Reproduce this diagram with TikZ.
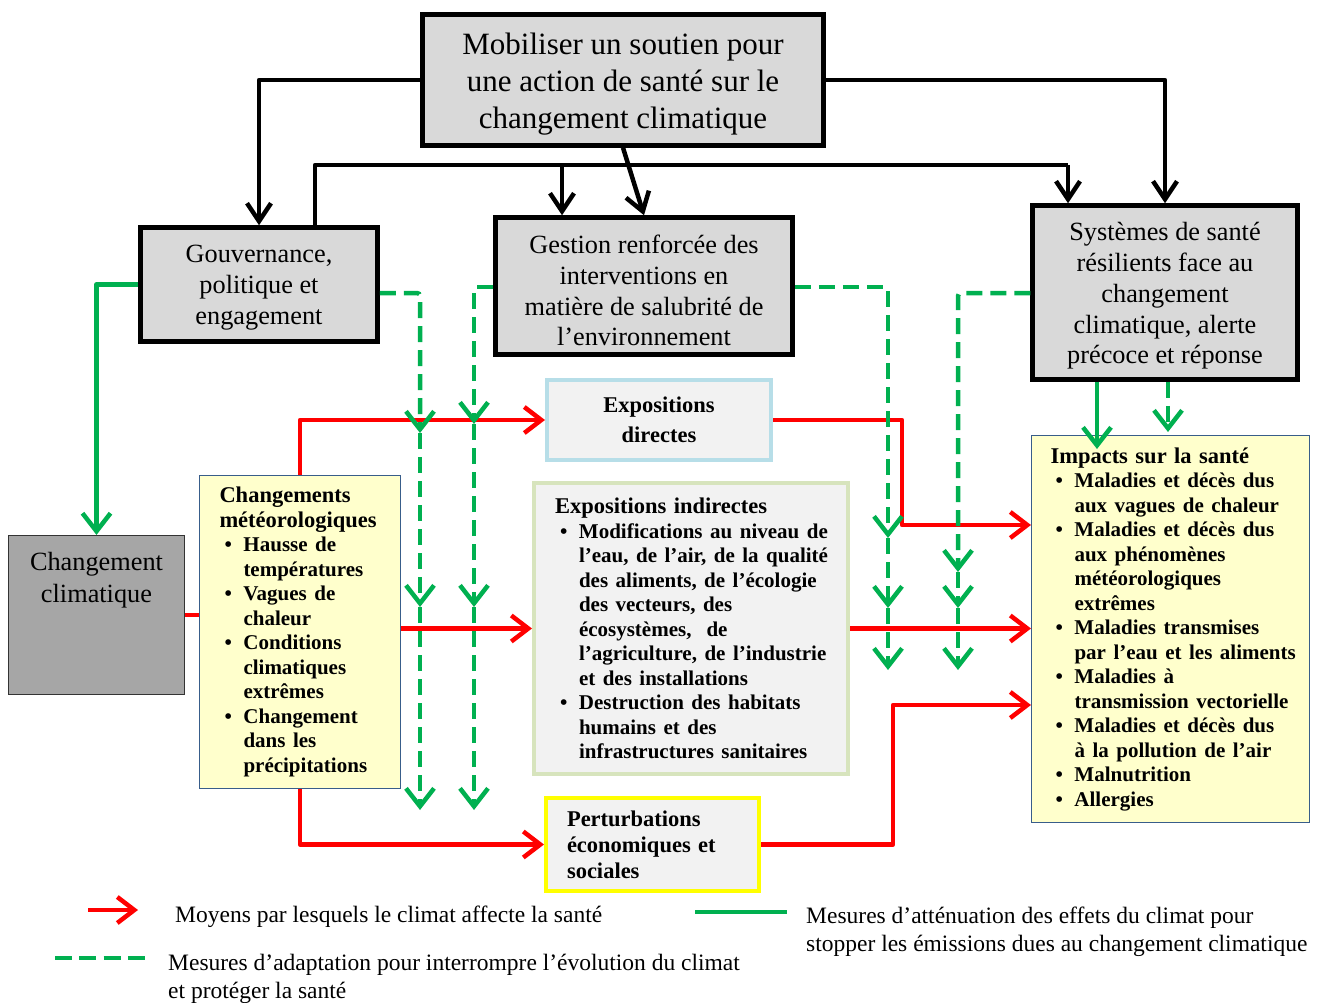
\documentclass[tikz,border=0pt]{standalone}
\usepackage{fontspec}
\setmainfont{Liberation Serif}
\usetikzlibrary{arrows.meta,calc}
\definecolor{grn}{HTML}{00B050}
\definecolor{rd}{HTML}{FF0000}
\definecolor{boxgray}{HTML}{D9D9D9}
\definecolor{ccgray}{HTML}{A6A6A6}
\definecolor{lgray}{HTML}{F2F2F2}
\definecolor{lyel}{HTML}{FFFFCC}
\definecolor{bluebd}{HTML}{385D8A}
\definecolor{ltblue}{HTML}{B7DEE8}
\definecolor{ltgreen}{HTML}{D7E4BD}
\definecolor{yel}{HTML}{FFFF00}
\newcommand{\bi}[1]{{\fontsize{21}{24.5}\selectfont\makebox[24pt][l]{\hspace{5pt}\textbullet}#1}}
\newcommand{\ci}[1]{{\fontsize{21}{24.5}\selectfont\hspace*{24pt}#1}}
\begin{document}
\begin{tikzpicture}[x=1pt,y=-1pt,
  tbox/.style={draw=black, line width=4.5pt, fill=boxgray, align=center, inner sep=0pt},
  ybox/.style={draw=bluebd, line width=1pt, fill=lyel, align=left, inner xsep=2.5pt, inner ysep=0pt,
    font=\fontsize{22.5}{24.5}\selectfont\bfseries},
  gbox/.style={line width=4pt, fill=lgray, inner xsep=2.5pt, inner ysep=0pt,
    font=\fontsize{22.5}{24.5}\selectfont\bfseries},
  blk/.style={line width=4.5pt, line join=round, -{Straight Barb[length=18pt,width=24pt]}},
  blkline/.style={line width=4.5pt, line join=round},
  redl/.style={rd, line width=4.5pt, line join=round},
  redarrow/.style={redl, -{Straight Barb[length=17pt,width=26pt]}},
  gsolid/.style={grn, line width=4.5pt, line join=round},
  gdash/.style={grn, line width=4.5pt, dash pattern=on 16pt off 8pt, rounded corners=3pt},
  gtip/.style={-{Straight Barb[length=18pt,width=28pt]}},
  legend/.style={font=\fontsize{23.5}{27.5}\selectfont, inner sep=0pt, align=left}
]
\fill[white] (0,0) rectangle (1331,1003);
\useasboundingbox (0,0) rectangle (1331,1003);

% ---------- boxes ----------
\node[tbox, minimum width=401pt, minimum height=131pt, font=\fontsize{31}{37}\selectfont] (title) at (623,80)
  {\rule{0pt}{29pt}Mobiliser un soutien pour\\une action de santé sur le\\changement climatique};
\node[tbox, minimum width=237pt, minimum height=114pt, font=\fontsize{26.3}{31}\selectfont] (gouv) at (259,284.5)
  {\rule{0pt}{23.5pt}Gouvernance,\\politique et\\engagement};
\node[tbox, minimum width=297pt, minimum height=137pt, font=\fontsize{26.3}{30.6}\selectfont] (gest) at (644,286)
  {\rule{0pt}{28pt}Gestion renforcée des\\interventions en\\matière de salubrité de\\l’environnement};
\node[tbox, minimum width=265pt, minimum height=174pt, font=\fontsize{26.3}{30.8}\selectfont] (sys) at (1165,292.5)
  {\rule{0pt}{25pt}Systèmes de santé\\résilients face au\\changement\\climatique, alerte\\précoce et réponse};

\node[draw=black!80, line width=1.2pt, fill=ccgray, align=center, inner sep=0pt,
  minimum width=176pt, text height=67pt, text depth=92pt, font=\fontsize{26.3}{32}\selectfont] (cc) at (96.5,615)
  {Changement\\climatique};

\node[ybox, text width=196pt, minimum height=313pt] (met) at (300,632)
  {\leftskip=17.5pt\relax
   Changements\\
   météorologiques\\
   \bi{Hausse de}\\
   \ci{températures}\\
   \bi{Vagues de}\\
   \ci{chaleur}\\
   \bi{Conditions}\\
   \ci{climatiques}\\
   \ci{extrêmes}\\
   \bi{Changement}\\
   \ci{dans les}\\
   \ci{précipitations}\par};

\node[gbox, draw=ltblue, align=center, minimum width=224pt, minimum height=80pt,
  font=\fontsize{22.5}{30}\selectfont\bfseries] (expd) at (659,420)
  {Expositions\\directes};

\node[gbox, draw=ltgreen, align=left, text width=309pt, minimum height=291pt] (expi) at (691,628.5)
  {\leftskip=18.5pt\relax
   Expositions indirectes\\
   \bi{Modifications au niveau de}\\
   \ci{l’eau, de l’air, de la qualité}\\
   \ci{des aliments, de l’écologie}\\
   \ci{des vecteurs, des}\\
   \ci{écosystèmes,\ \ de}\\
   \ci{l’agriculture, de l’industrie}\\
   \ci{et des installations}\\
   \bi{Destruction des habitats}\\
   \ci{humains et des}\\
   \ci{infrastructures sanitaires}\par};

\node[gbox, draw=yel, align=left, text width=208pt, minimum height=93pt,
  font=\fontsize{22.5}{26}\selectfont\bfseries] (pert) at (652.5,844.5)
  {\leftskip=18.5pt\relax
   Perturbations\\
   économiques et\\
   sociales\par};

\node[ybox, text width=273pt, minimum height=387pt] (imp) at (1170.5,629)
  {\leftskip=16.5pt\relax
   Impacts sur la santé\\
   \bi{Maladies et décès dus}\\
   \ci{aux vagues de chaleur}\\
   \bi{Maladies et décès dus}\\
   \ci{aux phénomènes}\\
   \ci{météorologiques}\\
   \ci{extrêmes}\\
   \bi{Maladies transmises}\\
   \ci{par l’eau et les aliments}\\
   \bi{Maladies à}\\
   \ci{transmission vectorielle}\\
   \bi{Maladies et décès dus}\\
   \ci{à la pollution de l’air}\\
   \bi{Malnutrition}\\
   \bi{Allergies}\par};

% ---------- black connectors ----------
\coordinate (j1) at (315,165);
\coordinate (j2) at (562,165);
\coordinate (j3) at (1068,165);
\draw[blk] (title.west) -| (gouv.north);
\draw[blk] (title.east) -| (sys.north);
\draw[blkline] (gouv.north -| j1) -- (j1) -- (j3);
\draw[blk] (j3) -- (sys.north -| j3);
\draw[blk] (j2) -- (gest.north -| j2);
\draw[blk] (title.south) -- (gest.north);

% ---------- red connectors ----------
\coordinate (rA) at (902,525);
\coordinate (rB) at (893,705);
\draw[redl] (cc.east) -- (cc.east -| met.west);
\draw[redarrow] (met.north) |- (expd.west);
\draw[redarrow] (met.east |- expi.west) -- (expi.west);
\draw[redarrow] (met.south) |- (pert.west);
\draw[redarrow] (expd.east) -| (rA) -- (rA -| imp.west);
\draw[redarrow] (expi.east) -- (expi.east -| imp.west);
\draw[redarrow] (pert.east) -| (rB) -- (rB -| imp.west);

% ---------- green solid ----------
\coordinate (g1) at (1097,449);
\draw[gsolid, gtip] (gouv.west) -| (cc.north);
\draw[gsolid, gtip] (sys.south -| g1) -- (g1);

% ---------- green dashed ----------
\coordinate (g2) at (1168,432);
\draw[gdash, gtip] (sys.south -| g2) -- (g2);

\coordinate (d1t) at (420,293);
\coordinate (d1a) at (420,433);
\coordinate (d1b) at (420,607);
\coordinate (d1c) at (420,810);
\draw[gdash, gtip] (gouv.east |- d1t) -- (d1t) -- (d1a);
\draw[gdash, gtip] (d1a) -- (d1b);
\draw[gdash, gtip] (d1b) -- (d1c);

\coordinate (d2t) at (474,287);
\coordinate (d2a) at (474,424);
\coordinate (d2b) at (474,607);
\coordinate (d2c) at (474,810);
\draw[gdash, gtip] (gest.west |- d2t) -- (d2t) -- (d2a);
\draw[gdash, gtip] (d2a) -- (d2b);
\draw[gdash, gtip] (d2b) -- (d2c);

\coordinate (d3t) at (888,287);
\coordinate (d3a) at (888,538);
\coordinate (d3b) at (888,608);
\coordinate (d3c) at (888,670);
\draw[gdash, gtip] (gest.east |- d3t) -- (d3t) -- (d3a);
\draw[gdash, gtip] (d3a) -- (d3b);
\draw[gdash, gtip] (d3b) -- (d3c);

\coordinate (d4t) at (958,293);
\coordinate (d4a) at (958,572);
\coordinate (d4b) at (958,608);
\coordinate (d4c) at (958,670);
\draw[gdash, gtip] (sys.west |- d4t) -- (d4t) -- (d4a);
\draw[gdash, gtip] (d4a) -- (d4b);
\draw[gdash, gtip] (d4b) -- (d4c);

% ---------- legend ----------
\coordinate (lr1) at (88,910);
\coordinate (lr2) at (138,910);
\draw[redarrow] (lr1) -- (lr2);
\node[legend, anchor=base west] (l1) at (175,922) {Moyens par lesquels le climat affecte la santé};

\coordinate (lg1) at (55,958);
\coordinate (lg2) at (145,958);
\draw[grn, line width=4.5pt, dash pattern=on 17pt off 7.3pt] (lg1) -- (lg2);
\node[legend, anchor=base west] (l2) at (168,998)
  {Mesures d’adaptation pour interrompre l’évolution du climat\\et protéger la santé};

\coordinate (ls1) at (695,912);
\coordinate (ls2) at (787,912);
\draw[gsolid] (ls1) -- (ls2);
\node[legend, anchor=base west] (l3) at (806,951)
  {Mesures d’atténuation des effets du climat pour\\stopper les émissions dues au changement climatique};
\end{tikzpicture}
\end{document}
